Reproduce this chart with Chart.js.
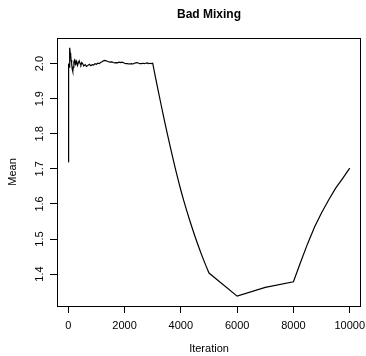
<!DOCTYPE html>
<html>
<head>
<meta charset="utf-8">
<script src="https://cdn.jsdelivr.net/npm/chart.js@4"></script>
<style>
  html, body { margin: 0; padding: 0; background: #fff; }
  #wrap { width: 366px; height: 356px; }
</style>
</head>
<body>
<div id="wrap"><canvas id="mix-chart" width="366" height="356"></canvas></div>
<script>
// running mean of the chain
const iterations = [
  0, 5, 10, 15, 20, 30, 40, 50, 60, 70, 80, 90, 100, 120, 140, 160, 180, 200, 220, 240,
  260, 280, 300, 330, 360, 390, 420, 450, 480, 510, 550, 600, 650, 700, 750, 800, 850, 900, 950, 1000,
  1050, 1100, 1150, 1200, 1250, 1300, 1350, 1400, 1450, 1500, 1550, 1600, 1650, 1700, 1750, 1800, 1850, 1900, 1950, 2000,
  2050, 2100, 2150, 2200, 2250, 2300, 2350, 2400, 2450, 2500, 2550, 2600, 2650, 2700, 2750, 2800, 2850, 2900, 2950, 3000,
  3100, 3200, 3300, 3400, 3500, 3600, 3700, 3800, 3900, 4000,
  4100, 4200, 4300, 4400, 4500, 4600, 4700, 4800, 4900, 5000,
  6000, 7000, 8000, 8250, 8500, 8750, 9000, 9250, 9500, 9750, 10000
]
const means = [
  1.72, 1.78, 1.90, 1.99, 2.00, 1.99, 2.02, 2.035, 2.045, 2.03, 2.02, 2.025, 2.01, 2.00, 1.985, 1.978, 1.99, 2.005, 2.01, 2.005,
  1.995, 2.008, 2.005, 1.995, 2.003, 2.008, 2.0, 1.996, 2.003, 2.0, 1.993, 1.997, 1.992, 1.995, 1.998, 1.994, 1.997, 1.996, 2.0, 1.998,
  2.001, 2.0, 2.003, 2.005, 2.008, 2.009, 2.008, 2.006, 2.005, 2.004, 2.005, 2.003, 2.002, 2.003, 2.002, 2.004, 2.003, 2.004, 2.003, 2.001,
  2.0, 2.0, 1.999, 1.999, 2.0, 1.999, 2.001, 2.002, 2.003, 2.001, 2.0, 2.0, 2.001, 2.0, 2.001, 2.002, 2.0, 2.001, 2.0, 2.001,
  1.960, 1.921, 1.882, 1.844, 1.807, 1.771, 1.736, 1.702, 1.670, 1.639,
  1.610, 1.583, 1.557, 1.532, 1.508, 1.485, 1.463, 1.442, 1.422, 1.403,
  1.337, 1.362, 1.378, 1.433, 1.486, 1.534, 1.575, 1.611, 1.645, 1.673, 1.702
]
const xTicks = [0, 2000, 4000, 6000, 8000, 10000]
const yTicks = [1.4, 1.5, 1.6, 1.7, 1.8, 1.9, 2.0]

const points = iterations.map(function (it, i) {
  return { x: it, y: means[i] }
})

const fontFamily = '"Liberation Sans", Arial, Helvetica, sans-serif'

// R-style box around the plot region plus the main title
const boxAndTitle = {
  id: 'boxAndTitle',
  afterDraw(chart) {
    const ctx = chart.ctx
    const a = chart.chartArea
    ctx.save()
    ctx.strokeStyle = '#000'
    ctx.lineWidth = 1
    ctx.strokeRect(Math.round(a.left) + 0.5, Math.round(a.top) + 0.5,
      Math.round(a.right - a.left) - 1, Math.round(a.bottom - a.top))
    ctx.fillStyle = '#000'
    ctx.font = 'bold 12px ' + fontFamily
    ctx.textAlign = 'center'
    ctx.textBaseline = 'middle'
    ctx.fillText('Bad Mixing', (a.left + a.right) / 2, 15)
    ctx.restore()
  }
}

const ctx = document.getElementById('mix-chart')
const mixChart = new Chart(ctx, {
  type: 'line',
  data: {
    datasets: [{
      label: 'Mean',
      data: points,
      borderColor: '#000',
      borderWidth: 1.2,
      pointRadius: 0,
      fill: false,
      tension: 0
    }]
  },
  options: {
    responsive: false,
    animation: false,
    layout: { padding: { top: 38, right: 5, left: 0, bottom: 0 } },
    plugins: {
      legend: { display: false },
      tooltip: { enabled: false }
    },
    scales: {
      x: {
        type: 'linear',
        min: -400,
        max: 10400,
        afterFit: function (scale) {
          scale.height = 50
          scale.paddingLeft = 0
          scale.paddingRight = 0
        },
        afterBuildTicks: function (scale) {
          scale.ticks = xTicks.map(function (v) { return { value: v } })
        },
        grid: { drawOnChartArea: false, drawTicks: true, tickLength: 7, color: '#000' },
        border: { display: false },
        ticks: {
          color: '#000',
          font: { family: fontFamily, size: 11 },
          padding: 6,
          maxRotation: 0,
          callback: function (v) { return String(v) }
        },
        title: {
          display: true,
          text: 'Iteration',
          color: '#000',
          font: { family: fontFamily, size: 11 },
          padding: { top: 0, bottom: 0 }
        }
      },
      y: {
        type: 'linear',
        min: 1.309,
        max: 2.073,
        afterFit: function (scale) { scale.width = 57 },
        afterBuildTicks: function (scale) {
          scale.ticks = yTicks.map(function (v) { return { value: v } })
        },
        grid: { drawOnChartArea: false, drawTicks: true, tickLength: 7, color: '#000' },
        border: { display: false },
        ticks: {
          color: '#000',
          font: { family: fontFamily, size: 11 },
          minRotation: 90,
          maxRotation: 90,
          crossAlign: 'center',
          padding: 2,
          callback: function (v) { return v.toFixed(1) }
        },
        title: {
          display: true,
          text: 'Mean',
          color: '#000',
          font: { family: fontFamily, size: 11 },
          padding: { top: 6, bottom: 0 }
        }
      }
    }
  },
  plugins: [boxAndTitle]
})
</script>
</body>
</html>
